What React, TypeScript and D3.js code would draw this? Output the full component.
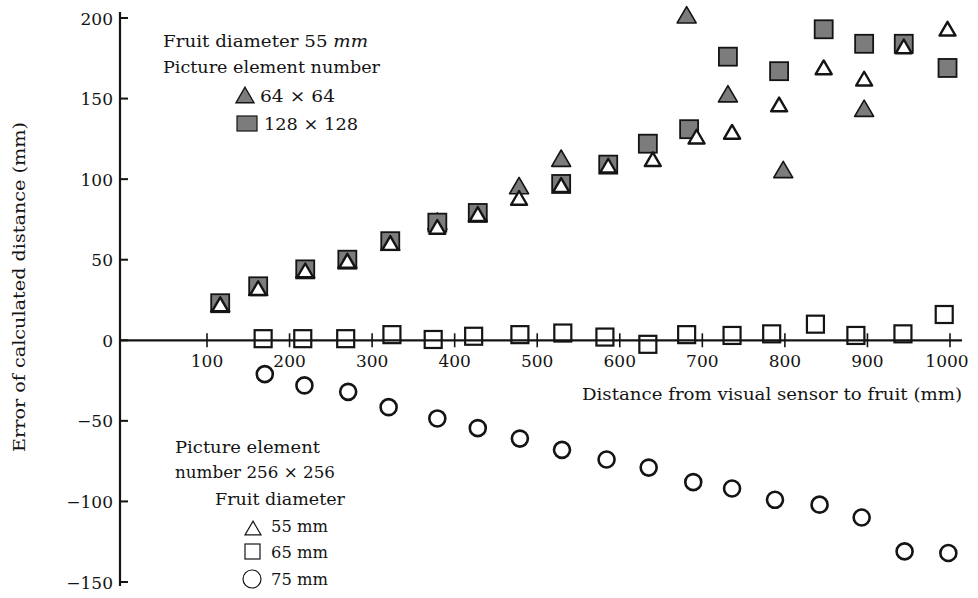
import React from "react";
import * as d3 from "d3";

// ---- data ----
const xTicks = [100, 200, 300, 400, 500, 600, 700, 800, 900, 1000];
const yTicks = [200, 150, 100, 50, 0, -50, -100, -150];

// Fruit diameter 55 mm, 64x64 (filled triangles)
const dist64 = [116, 162, 219, 270, 322, 379, 428, 478, 529, 681, 731, 798, 896];
const err64 = [23, 33, 44, 50, 61, 74, 79, 96, 113, 202, 153, 106, 144];

// Fruit diameter 55 mm, 128x128 (filled squares)
const dist128 = [116, 162, 219, 270, 322, 379, 428, 529, 586, 634, 684, 731, 793, 847, 896, 944, 997];
const err128 = [23, 33.5, 44, 50, 61.5, 73, 79, 97, 109, 122, 131, 176, 167, 193, 184, 184, 169];

// 256x256, fruit diameter 55 mm (open triangles)
const dist55 = [116, 162, 219, 270, 322, 379, 428, 478, 529, 586, 640, 693, 736, 793, 847, 896, 944, 997];
const err55 = [23, 33, 44, 50, 61, 71, 79, 89, 97, 109, 113, 127, 130, 147, 170, 163, 183, 194];

// 256x256, fruit diameter 65 mm (open squares)
const dist65 = [168, 216, 268, 324, 374, 423, 479, 531, 582, 634, 681, 736, 784, 837, 886, 943, 993];
const err65 = [1, 1, 1, 3.5, 0.5, 2.5, 3.5, 4.5, 2, -2.5, 3.5, 3, 4, 10, 3, 4, 16];

// 256x256, fruit diameter 75 mm (open circles)
const dist75 = [170, 218, 271, 320, 379, 428, 479, 530, 584, 635, 689, 736, 788, 842, 893, 945, 998];
const err75 = [-21, -28, -32, -41.5, -48.5, -54.5, -61, -68, -74, -79, -88, -92, -99, -102, -110, -131, -132];

const FONT = '"DejaVu Serif", "Liberation Serif", serif';
const INK = "#141414";
const GRAY = "#7c7c7c";

const x = d3.scaleLinear().domain([100, 1000]).range([207, 950]);
const y = d3.scaleLinear().domain([-150, 200]).range([582, 18]);

const triPath = (s: number) => {
  const h = s * 0.86;
  return `M0,${-h / 2}L${s / 2},${h / 2}L${-s / 2},${h / 2}Z`;
};

const textStyle = { fontFamily: FONT };

function T({ x: tx, y: ty, w, children, anchor, size = 16, transform }: any) {
  return (
    <text
      x={tx}
      y={ty}
      textLength={w}
      lengthAdjust="spacingAndGlyphs"
      textAnchor={anchor || "start"}
      style={{ ...textStyle, fontSize: size + "px" }}
      fill={INK}
      transform={transform}
    >
      {children}
    </text>
  );
}

export default function App() {
  const y0 = y(0);
  const pts = (ds: number[], es: number[]) => ds.map((d, i) => [x(d), y(es[i])]);

  return (
    <svg
      width={978}
      height={598}
      style={{ position: "absolute", left: 0, top: 0, background: "#fff" }}
    >
      {/* axes */}
      <line x1={120} x2={120} y1={12} y2={586} stroke={INK} strokeWidth={2.2} />
      <line x1={120} x2={962} y1={y0} y2={y0} stroke={INK} strokeWidth={2.2} />
      {yTicks.map((t) => (
        <g key={"yt" + t}>
          <line x1={120} x2={128} y1={y(t)} y2={y(t)} stroke={INK} strokeWidth={2} />
          <text
            x={113}
            y={y(t) + 6.5}
            textAnchor="end"
            style={{ ...textStyle, fontSize: "17px" }}
            fill={INK}
          >
            {t < 0 ? "\u2212" + Math.abs(t) : String(t)}
          </text>
        </g>
      ))}
      {xTicks.map((t) => (
        <g key={"xt" + t}>
          <line x1={x(t)} x2={x(t)} y1={y0 - 7} y2={y0 + 7} stroke={INK} strokeWidth={1.6} />
          <text
            x={x(t) - (t === 1000 ? 3 : 0)}
            y={367}
            textAnchor="middle"
            style={{ ...textStyle, fontSize: "17px" }}
            fill={INK}
          >
            {t}
          </text>
        </g>
      ))}

      {/* axis titles */}
      <T x={582} y={400} w={380}>Distance from visual sensor to fruit (mm)</T>
      <T x={0} y={0} w={330} anchor="middle" transform={`translate(25,287) rotate(-90)`}>
        Error of calculated distance (mm)
      </T>

      {/* filled triangles 64x64 */}
      {pts(dist64, err64).map(([px, py], i) => (
        <path
          key={"a" + i}
          d={triPath(19)}
          transform={`translate(${px},${py})`}
          fill={GRAY}
          stroke={INK}
          strokeWidth={1.6}
          strokeLinejoin="round"
        />
      ))}
      {/* filled squares 128x128 */}
      {pts(dist128, err128).map(([px, py], i) => (
        <rect
          key={"b" + i}
          x={px - 9}
          y={py - 9}
          width={18}
          height={18}
          fill={GRAY}
          stroke={INK}
          strokeWidth={1.8}
        />
      ))}
      {/* open triangles 256x256 55 mm */}
      {pts(dist55, err55).map(([px, py], i) => (
        <path
          key={"c" + i}
          d={triPath(16)}
          transform={`translate(${px},${py + 1})`}
          fill="#fff"
          stroke={INK}
          strokeWidth={2.4}
          strokeLinejoin="round"
        />
      ))}
      {/* open squares 65 mm */}
      {pts(dist65, err65).map(([px, py], i) => (
        <rect
          key={"d" + i}
          x={px - 8.5}
          y={py - 8.5}
          width={17}
          height={17}
          fill="none"
          stroke={INK}
          strokeWidth={2.2}
        />
      ))}
      {/* open circles 75 mm */}
      {pts(dist75, err75).map(([px, py], i) => (
        <circle
          key={"e" + i}
          cx={px}
          cy={py}
          r={8}
          fill="none"
          stroke={INK}
          strokeWidth={2.6}
        />
      ))}

      {/* legend, top */}
      <T x={163} y={47} w={205}>
        Fruit diameter 55 <tspan fontStyle="italic">mm</tspan>
      </T>
      <T x={163} y={73} w={217}>Picture element number</T>
      <path d={triPath(18)} transform="translate(245,95)" fill={GRAY} stroke={INK} strokeWidth={1.4} />
      <T x={260} y={102} w={75}>64 × 64</T>
      <rect x={237} y={116} width={20} height={15} fill={GRAY} stroke={INK} strokeWidth={1.2} />
      <T x={264} y={130} w={94}>128 × 128</T>

      {/* legend, bottom */}
      <T x={175} y={453} w={145}>Picture element</T>
      <T x={175} y={478} w={160}>number 256 × 256</T>
      <T x={215} y={505} w={130}>Fruit diameter</T>
      <path d={triPath(16)} transform="translate(253,528)" fill="none" stroke={INK} strokeWidth={1.2} />
      <T x={271} y={532} w={57}>55 mm</T>
      <rect x={245} y={544} width={15} height={15} fill="none" stroke={INK} strokeWidth={1.2} />
      <T x={271} y={558} w={57}>65 mm</T>
      <circle cx={252} cy={579} r={9} fill="none" stroke={INK} strokeWidth={1.2} />
      <T x={271} y={585} w={57}>75 mm</T>
    </svg>
  );
}
